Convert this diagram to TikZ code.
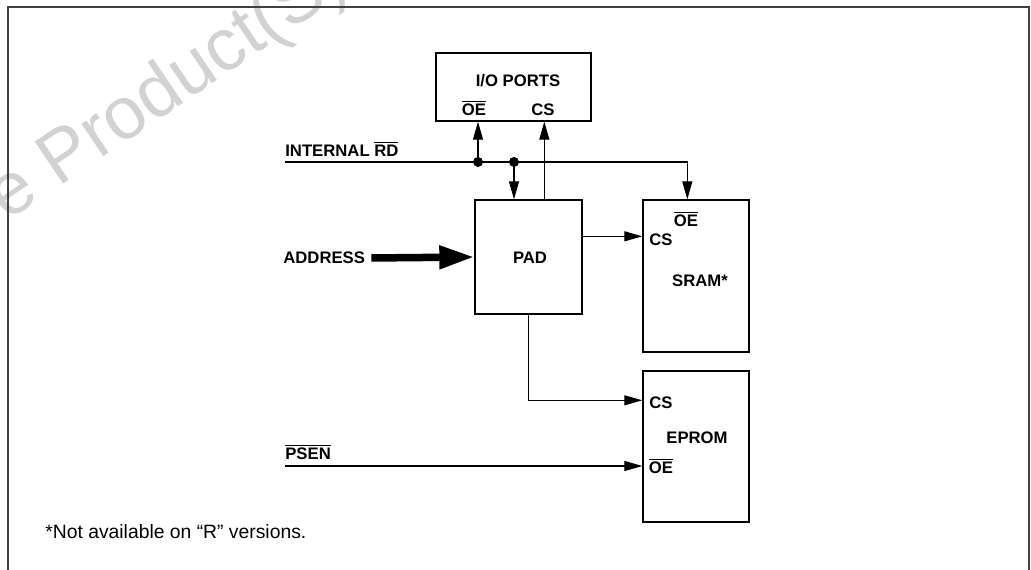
\documentclass[tikz,border=0pt]{standalone}
\usepackage{fontspec}
\setmainfont{Liberation Sans}
\usepackage{tikz}
\usetikzlibrary{shapes,arrows,positioning,calc,arrows.meta}

\newcommand{\ovb}[1]{\ensuremath{\overline{\mbox{#1}}}}

\tikzset{
    blk/.style={draw, line width=0.8pt, inner sep=0pt},
    lbl/.style={inner sep=0pt, font=\fontsize{9.5}{11}\selectfont\bfseries},
    sig/.style={line width=0.6pt, -{Triangle[length=0.36cm, width=0.2cm]}},
    bus/.style={line width=0.15cm, -{Triangle[length=0.7cm, width=0.44cm]}},
    wmark/.style={inner sep=0pt, text=gray!35, font=\fontsize{42}{46}\selectfont, rotate=34}
}

\begin{document}
\begin{tikzpicture}[x=0.02cm, y=-0.02cm]
    \useasboundingbox (0,0) rectangle (1031,570);

    % Watermark
    \node[wmark, anchor=base west] (wm) at (7,222) {e Product(S)};

    % Frame
    \draw[line width=1pt, black!75] (8,580) -- (8,7) -- (1029,7) -- (1029,580);

    % Blocks
    \node[blk, minimum width=3.1cm, minimum height=1.36cm] (io) at (513.5,87) {};
    \node[blk, minimum width=2.14cm, minimum height=2.28cm] (pad) at (528.5,257) {};
    \node[blk, minimum width=2.12cm, minimum height=3.04cm] (sram) at (696,276) {};
    \node[blk, minimum width=2.12cm, minimum height=3.02cm] (eprom) at (696,446.5) {};

    % Block texts
    \node[lbl] (iot) at (518,81) {I/O PORTS};
    \node[lbl] (iooe) at (474,108) {\ovb{OE}};
    \node[lbl] (iocs) at (543,110) {CS};
    \node[lbl] (padt) at (530,258) {PAD};
    \node[lbl] (sramoe) at (686,219) {\ovb{OE}};
    \node[lbl] (sramcs) at (661,240) {CS};
    \node[lbl] (sramt) at (700,281) {SRAM*};
    \node[lbl] (epcs) at (661,403) {CS};
    \node[lbl] (ept) at (697,438) {EPROM};
    \node[lbl] (epoe) at (661,466) {\ovb{OE}};

    % Inputs
    \node[lbl, anchor=west] (rdt) at (285,149) {INTERNAL \ovb{RD}};
    \node[lbl, anchor=west] (addr) at (283,258) {ADDRESS};
    \node[lbl, anchor=west] (psent) at (285,452) {\ovb{PSEN}};
    \coordinate (rdin) at (285,162);
    \coordinate (psen) at (285,466);

    % INTERNAL RD bus
    \coordinate (dotA) at (478,162);
    \coordinate (dotB) at (514,162);
    \coordinate (sramin) at ($(sram.north west)+(45,0)$);
    \draw[sig] (rdin) -- (rdin -| sramin) -- (sramin);
    \foreach \d in {dotA, dotB} {
        \fill (\d) circle[radius=0.1cm];
    }
    \draw[sig] (dotA) -- (dotA |- io.south);
    \draw[sig] (dotB) -- (dotB |- pad.north);

    % PAD outputs
    \coordinate (padcs) at ($(pad.north west)+(70,0)$);
    \draw[sig] (padcs) -- (padcs |- io.south);
    \coordinate (padsr) at ($(pad.north east)+(0,37)$);
    \draw[sig] (padsr) -- (padsr -| sram.west);
    \coordinate (padep) at ($(pad.south west)+(54,0)$);
    \coordinate (epin) at ($(eprom.north west)+(0,30)$);
    \draw[sig] (padep) |- (epin);

    % ADDRESS and PSEN
    \draw[bus] ($(addr.east)+(6,0)$) -- (pad.west);
    \draw[sig] (psen) -- (psen -| eprom.west);

    % Note
    \node[inner sep=0pt, anchor=west, font=\fontsize{11}{13}\selectfont] (note) at (45,532) {*Not available on “R” versions.};
\end{tikzpicture}
\end{document}
